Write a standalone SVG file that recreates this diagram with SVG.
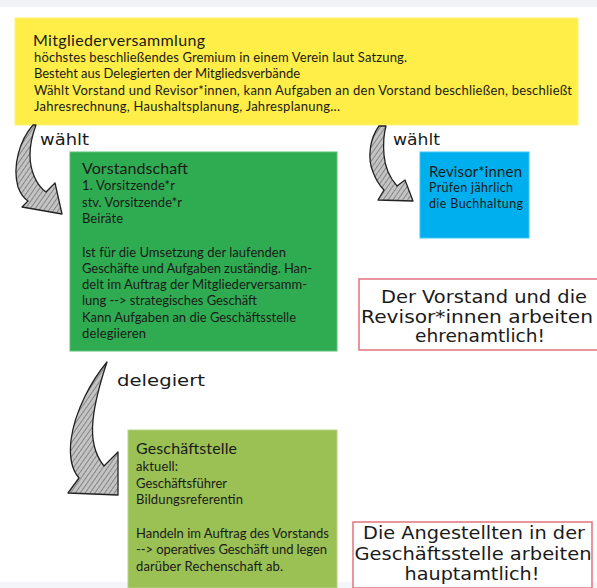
<svg xmlns="http://www.w3.org/2000/svg" width="597" height="588" viewBox="0 0 597 588">
<defs>
<pattern id="hatch" width="4" height="4" patternUnits="userSpaceOnUse" patternTransform="rotate(35)">
<rect width="4" height="4" fill="#c4c4c4"/>
<line x1="0" y1="0" x2="0" y2="4" stroke="#6a6a6a" stroke-width="1.4"/>
</pattern>
<style>
.box{stroke-width:1}
.t{font-family:Lato,"Open Sans",sans-serif;fill:#1a1a1a}
.h{font-size:16px}
.b{font-size:13px}
.s{font-size:12.5px}
.hand{font-family:"DejaVu Sans",sans-serif;fill:#1a1a1a;font-size:17.5px}
.lbl{font-size:16.5px}
.note{fill:#ffffff;stroke:#e57a86;stroke-width:1.6}
.arrow{fill:url(#hatch);stroke:#222;stroke-width:1.3;stroke-linejoin:round}
</style>
</defs>
<rect width="597" height="588" fill="#ffffff"/>
<rect width="597" height="7" fill="#f2f3f7"/>
<rect x="0" y="582" width="597" height="6" fill="#f4f5f8"/>

<g id="mitgliederversammlung">
<rect class="box" x="15" y="18" width="563" height="107" fill="#ffee47" stroke="#fff27a"/>
<text class="t h" x="33" y="46" textLength="172">Mitgliederversammlung</text>
<text class="t b" x="34" y="62" textLength="373">höchstes beschließendes Gremium in einem Verein laut Satzung.</text>
<text class="t b" x="34" y="78" textLength="266">Besteht aus Delegierten der Mitgliedsverbände</text>
<text class="t b" x="34" y="95" textLength="538">Wählt Vorstand und Revisor*innen, kann Aufgaben an den Vorstand beschließen, beschließt</text>
<text class="t b" x="34" y="111" textLength="306">Jahresrechnung, Haushaltsplanung, Jahresplanung...</text>
</g>

<g id="vorstandschaft">
<rect class="box" x="70" y="152" width="267" height="199" fill="#2fac52" stroke="#5cc077"/>
<text class="t h" x="82" y="174" textLength="106">Vorstandschaft</text>
<text class="t b" x="82" y="190" textLength="93">1. Vorsitzende*r</text>
<text class="t b" x="82" y="207" textLength="100">stv. Vorsitzende*r</text>
<text class="t b" x="82" y="223" textLength="41">Beiräte</text>
<text class="t b" x="82" y="257" textLength="204">Ist für die Umsetzung der laufenden</text>
<text class="t b" x="82" y="273" textLength="230">Geschäfte und Aufgaben  zuständig. Han-</text>
<text class="t b" x="82" y="289" textLength="225">delt im Auftrag der Mitgliederversamm-</text>
<text class="t b" x="82" y="305" textLength="175">lung --&gt; strategisches Geschäft</text>
<text class="t b" x="82" y="322" textLength="214">Kann Aufgaben an die Geschäftsstelle</text>
<text class="t b" x="82" y="338" textLength="64">delegiieren</text>
</g>

<g id="revisorinnen">
<rect class="box" x="420" y="152" width="109" height="86" fill="#00b0ee" stroke="#40c4f2"/>
<text class="t" font-size="15" x="429" y="177" textLength="93">Revisor*innen</text>
<text class="t s" x="429" y="192" textLength="84">Prüfen jährlich</text>
<text class="t s" x="429" y="208" textLength="94">die Buchhaltung</text>
</g>

<g id="geschaeftsstelle">
<rect class="box" x="128" y="430" width="209" height="158" fill="#9bc155" stroke="#b5d383"/>
<text class="t h" x="136" y="454" textLength="101">Geschäftstelle</text>
<text class="t b" x="136" y="471" textLength="42">aktuell:</text>
<text class="t b" x="136" y="488" textLength="91">Geschäftsführer</text>
<text class="t b" x="136" y="504" textLength="107">Bildungsreferentin</text>
<text class="t b" x="136" y="538" textLength="193">Handeln im Auftrag des Vorstands</text>
<text class="t b" x="136" y="554" textLength="191">--&gt; operatives Geschäft und legen</text>
<text class="t b" x="136" y="571" textLength="147">darüber Rechenschaft ab.</text>
</g>

<g id="note-ehrenamtlich">
<rect class="note" x="359" y="279" width="240" height="71"/>
<text class="hand" x="484" y="303" text-anchor="middle" textLength="206" lengthAdjust="spacingAndGlyphs">Der Vorstand und die</text>
<text class="hand" x="477" y="323" text-anchor="middle" textLength="232" lengthAdjust="spacingAndGlyphs">Revisor*innen arbeiten</text>
<text class="hand" x="480" y="342" text-anchor="middle" textLength="130" lengthAdjust="spacingAndGlyphs">ehrenamtlich!</text>
</g>

<g id="note-hauptamtlich">
<rect class="note" x="353" y="522" width="239" height="66"/>
<text class="hand" x="474" y="539" text-anchor="middle" textLength="222" lengthAdjust="spacingAndGlyphs">Die Angestellten in der</text>
<text class="hand" x="473" y="560" text-anchor="middle" textLength="237" lengthAdjust="spacingAndGlyphs">Geschäftsstelle arbeiten</text>
<text class="hand" x="472" y="580" text-anchor="middle" textLength="135" lengthAdjust="spacingAndGlyphs">hauptamtlich!</text>
</g>

<g id="connectors">
<path class="arrow" d="M 33,125 C 20,140 12,165 18,187 C 21,195 25,199 28,201 L 22,207 L 62,214 L 55,183 L 46,192 C 36,185 30,170 30,155 C 30,143 33,133 36,125 Z"/>
<text class="hand lbl" x="40" y="145" textLength="49" lengthAdjust="spacingAndGlyphs">wählt</text>
<path class="arrow" d="M 379,126 C 370,138 367,158 373,172 C 376,180 380,186 384,190 L 378,200 L 413,201 L 405,180 L 397,186 C 390,178 385,168 384,155 C 383,143 384,133 386,126 Z"/>
<text class="hand lbl" x="393" y="145" textLength="47" lengthAdjust="spacingAndGlyphs">wählt</text>
<path class="arrow" d="M 107,362 C 92,380 75,410 71,440 C 69,458 72,470 79,478 L 68,493 L 118,495 L 118,452 L 104,466 C 95,455 91,440 93,420 C 95,400 101,380 107,362 Z"/>
<text class="hand lbl" x="117" y="386" textLength="88" lengthAdjust="spacingAndGlyphs">delegiert</text>
</g>
</svg>
